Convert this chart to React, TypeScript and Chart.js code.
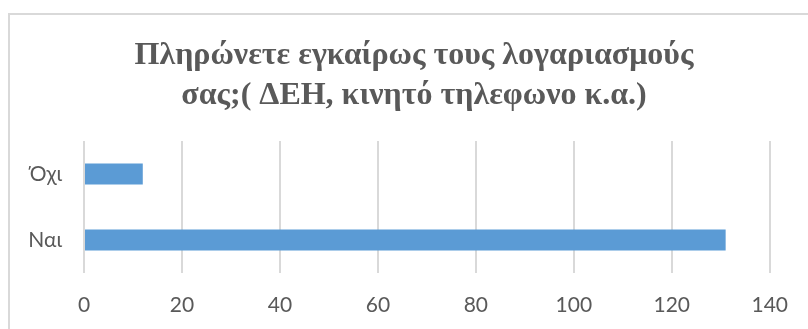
import React, { useEffect, useRef } from 'react';
import { Chart, registerables } from 'chart.js';

Chart.register(...registerables);

const titleLines = ['Πληρώνετε εγκαίρως τους λογαριασμούς', 'σας;( ΔΕΗ, κινητό τηλεφωνο κ.α.)'];
const categories = ['Όχι', 'Ναι'];
const values = [12, 131];
const xMin = 0;
const xMax = 140;
const xStep = 20;

const tickFont = { family: 'Lato, "Open Sans", sans-serif', size: 21 };

const titlePlugin = {
  id: 'twoLineTitle',
  afterDraw(chart: any) {
    const ctx = chart.ctx as CanvasRenderingContext2D;
    ctx.save();
    ctx.fillStyle = '#595959';
    ctx.font = 'bold 32px "Liberation Serif", "Times New Roman", serif';
    ctx.textAlign = 'center';
    ctx.textBaseline = 'alphabetic';
    const cx = 414;
    const baselines = [64, 104];
    titleLines.forEach((line, i) => ctx.fillText(line, cx, baselines[i]));
    ctx.restore();
  },
};

export default function App() {
  const ref = useRef<HTMLCanvasElement>(null);
  useEffect(() => {
    const chart = new Chart(ref.current!, {
      type: 'bar',
      data: {
        labels: categories,
        datasets: [
          {
            data: values,
            backgroundColor: '#5B9BD5',
            barPercentage: 0.32,
            categoryPercentage: 1,
          },
        ],
      },
      options: {
        indexAxis: 'y',
        animation: false,
        responsive: false,
        maintainAspectRatio: false,
        layout: { padding: { left: 20, right: 14, top: 141, bottom: 11 } },
        plugins: {
          legend: { display: false },
          tooltip: { enabled: false },
          title: { display: false },
        },
        scales: {
          x: {
            min: xMin,
            max: xMax,
            afterFit: (scale: any) => {
              scale.height = 45;
            },
            ticks: { stepSize: xStep, color: '#595959', font: tickFont, padding: 20 },
            grid: { color: '#d9d9d9', lineWidth: 2, drawTicks: false },
            border: { display: false },
          },
          y: {
            afterFit: (scale: any) => {
              scale.width = 64;
            },
            ticks: { color: '#595959', font: tickFont, padding: 22 },
            grid: { display: false, drawTicks: false },
            border: { display: false },
          },
        },
      },
      plugins: [titlePlugin],
    } as any);
    return () => chart.destroy();
  }, []);

  return (
    <div
      style={{
        position: 'fixed',
        left: 0,
        top: 0,
        width: 808,
        height: 329,
        overflow: 'hidden',
        background: '#ffffff',
      }}
    >
      <div
        style={{
          position: 'absolute',
          left: 8,
          top: 13,
          width: 830,
          height: 360,
          border: '2px solid #d9d9d9',
          boxSizing: 'border-box',
        }}
      />
      <canvas
        ref={ref}
        width={808}
        height={329}
        style={{ position: 'absolute', left: 0, top: 0, width: 808, height: 329 }}
      />
    </div>
  );
}
